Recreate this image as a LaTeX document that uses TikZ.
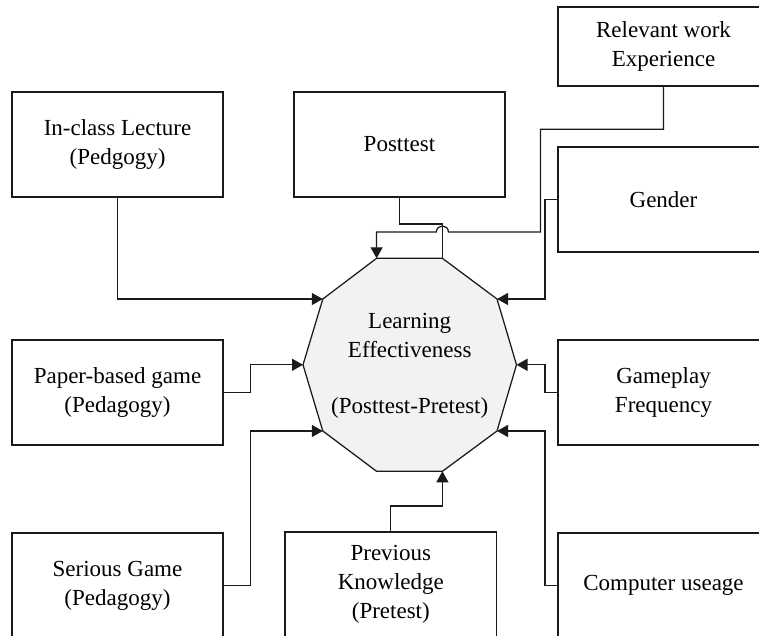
\documentclass[tikz,border=0pt]{standalone}
\usepackage{fontspec}
\setmainfont{Liberation Serif}
\usetikzlibrary{arrows.meta,calc}
\definecolor{hubfill}{HTML}{F2F2F2}
\definecolor{ink}{HTML}{1A1A1A}
\begin{document}
\begin{tikzpicture}[x=1pt,y=-1pt,
  box/.style={draw=ink,line width=1.25pt,minimum width=211pt,minimum height=105pt,
    inner sep=0pt,align=center,font=\fontsize{23}{28.8}\selectfont},
  link/.style={draw=ink,line width=1.25pt},
  arr/.style={link,-{Triangle[length=11pt,width=12pt]}}]
\useasboundingbox (0,0) rectangle (759,635);

% central decagon
\coordinate (tl) at (376.6,258.3);
\coordinate (tr) at (442.4,258.3);
\coordinate (ur) at (497,299);
\coordinate (r)  at (516.5,364.8);
\coordinate (lr) at (497,431);
\coordinate (br) at (442.4,471.3);
\coordinate (bl) at (376.6,471.3);
\coordinate (ll) at (322.8,431);
\coordinate (l)  at (303,364.8);
\coordinate (ul) at (322.8,299);
\filldraw[fill=hubfill,draw=ink,line width=1.25pt]
  (tl) -- (tr) -- (ur) -- (r) -- (lr) -- (br) -- (bl) -- (ll) -- (l) -- (ul) -- cycle;
\node[align=center,font=\fontsize{23}{28.3}\selectfont] (hub) at (409.7,366)
  {Learning\\Effectiveness\\[28pt](Posttest-Pretest)};

% factor boxes
\node[box,minimum height=79pt] (rel) at (663.5,46.5) {Relevant work\\Experience};
\node[box] (lec)  at (117.5,144.5) {In-class Lecture\\(Pedgogy)};
\node[box] (post) at (399.5,144.5) {Posttest};
\node[box] (gen)  at (663.5,199.5) {Gender};
\node[box] (pap)  at (117.5,392.5) {Paper-based game\\(Pedagogy)};
\node[box] (play) at (663.5,392.5) {Gameplay\\Frequency};
\node[box] (ser)  at (117.5,585.5) {Serious Game\\(Pedagogy)};
\node[box,minimum width=211.6pt] (prev) at (390.8,584.5) {Previous\\Knowledge\\(Pretest)};
\node[box] (comp) at (663.5,585.5) {Computer useage};

% connectors
\draw[arr] (lec.south) |- (ul);
\draw[arr] (pap.east) -- ++(26.8,0) |- (l);
\draw[arr] (ser.east) -- ++(26.8,0) |- (ll);
\draw[arr] (prev.north) -- ++(0,-25.5) -| (br);
\draw[arr] (comp.west) -- ++(-12.5,0) |- (lr);
\draw[arr] (play.west) -- ++(-12.5,0) |- (r);
\draw[arr] (gen.west) -- ++(-12.5,0) |- (ur);
\draw[link] (post.south) -- ++(0,26.3) -| (tr);

% experience line hops over the posttest line
\coordinate (bend) at (540.6,232);
\coordinate (hopR) at (448.4,232);
\coordinate (hopL) at (436.4,232);
\draw[arr] (rel.south) -- ++(0,42.7) -| (bend) -- (hopR)
  .. controls ($(hopR)+(0,-8)$) and ($(hopL)+(0,-8)$) .. (hopL) -| (tl);
\end{tikzpicture}
\end{document}
